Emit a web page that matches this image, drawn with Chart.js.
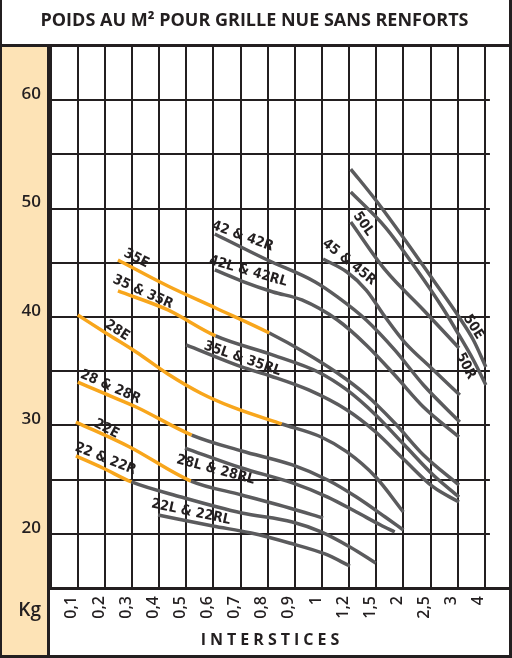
<!DOCTYPE html>
<html>
<head>
<meta charset="utf-8">
<script src="https://cdn.jsdelivr.net/npm/chart.js@4.4.1/dist/chart.umd.min.js"></script>
<style>
  html, body { margin: 0; padding: 0; background: #fff; }
  #wrap { width: 512px; height: 658px; }
</style>
</head>
<body>
<div id="wrap"><canvas id="chart" width="512" height="658"></canvas></div>
<script>
// columns 1..16 are evenly spaced, whatever the interstice value
const xTickLabels = ['0,1', '0,2', '0,3', '0,4', '0,5', '0,6', '0,7', '0,8', '0,9', '1', '1,2', '1,5', '2', '2,5', '3', '4'];
const yTickLabels = [20, 30, 40, 50, 60];

// each curve: column position (x) and kg per m²
const x22LRL = [3.96, 5.98, 7.39, 8.80, 10.11, 11.03];
const kg22LRL = [21.73, 20.72, 20.07, 19.15, 18.14, 17.03];

const x22R = [0.93, 1.92, 2.98, 4.81, 7.04, 8.91, 9.97, 11.03, 11.98];
const kg22R = [27.18, 26.07, 24.78, 23.39, 21.92, 21.09, 20.17, 18.78, 17.31];

const x22E = [0.93, 2.91, 5.17, 7.04, 8.80, 10.04];
const kg22E = [30.31, 28.01, 24.87, 23.58, 22.38, 21.46];

const x28LRL = [4.95, 7.04, 8.91, 10.21, 11.27, 12.16, 12.68];
const kg28LRL = [27.91, 26.07, 24.69, 23.39, 22.01, 20.81, 20.17];

const x28R = [1.00, 2.02, 3.15, 5.20, 7.04, 8.91, 10.21, 11.27, 12.33, 13.00];
const kg28R = [34.00, 32.90, 31.70, 29.11, 27.64, 26.35, 24.96, 23.39, 21.55, 20.35];

const x28E = [1.00, 2.09, 3.15, 4.32, 5.52, 6.68, 8.52, 9.97, 10.92, 11.98, 13.00];
const kg28E = [40.18, 38.43, 36.77, 34.74, 32.99, 31.70, 30.13, 28.93, 27.55, 25.24, 22.01];

const x35LRL = [4.99, 7.04, 8.10, 9.51, 10.92, 11.98, 13.04, 14.10, 15.05];
const kg35LRL = [37.42, 35.39, 34.56, 33.27, 31.42, 29.39, 26.81, 24.32, 22.93];

const x35R = [2.48, 4.32, 6.08, 8.20, 9.86, 10.92, 11.98, 13.04, 14.10, 15.05];
const kg35R = [42.40, 40.65, 38.25, 36.49, 34.93, 33.27, 30.96, 28.19, 25.42, 23.39];

const x35E = [2.48, 4.32, 6.08, 8.06, 9.40, 10.57, 11.63, 12.68, 13.74, 15.05];
const kg35E = [45.26, 42.86, 40.83, 38.52, 36.68, 34.83, 32.80, 30.22, 27.27, 24.50];

const x42LRL = [6.05, 7.04, 8.20, 9.26, 10.57, 11.63, 12.68, 13.74, 15.05];
const kg42LRL = [44.34, 43.32, 42.31, 41.57, 39.72, 37.42, 34.65, 31.70, 28.93];

const x42R = [6.05, 7.99, 9.75, 10.57, 11.63, 12.68, 13.74, 15.08];
const kg42R = [47.66, 45.26, 43.23, 41.85, 39.72, 36.96, 33.73, 30.31];

const x45R = [10.04, 10.92, 11.63, 12.33, 13.04, 13.99, 15.08];
const kg45R = [45.35, 44.15, 42.49, 40.00, 37.69, 35.39, 32.80];

const x50L = [11.06, 12.33, 13.74, 15.05];
const kg50L = [48.76, 44.34, 40.65, 37.14];

const x50R = [11.06, 12.33, 13.50, 14.45, 15.05, 15.58, 16.04];
const kg50R = [51.53, 48.30, 44.34, 40.83, 38.34, 36.03, 33.73];

const x50E = [11.06, 11.98, 13.14, 14.10, 15.05, 15.58, 16.04];
const kg50E = [53.65, 50.79, 46.83, 43.41, 40.00, 37.88, 35.39];

const INK = '#231f20';
const GREY = '#5b5b5d';
const ORANGE = '#f8a61c';
const PEACH = '#fde3b6';

// orangeUntil: column where the orange part of a curve stops
const curves = [
  { name: '22L & 22RL', x: x22LRL, kg: kg22LRL, orangeUntil: null },
  { name: '22 & 22R', x: x22R, kg: kg22R, orangeUntil: 2.98 },
  { name: '22E', x: x22E, kg: kg22E, orangeUntil: 5.17 },
  { name: '28L & 28RL', x: x28LRL, kg: kg28LRL, orangeUntil: null },
  { name: '28 & 28R', x: x28R, kg: kg28R, orangeUntil: 5.20 },
  { name: '28E', x: x28E, kg: kg28E, orangeUntil: 8.52 },
  { name: '35L & 35RL', x: x35LRL, kg: kg35LRL, orangeUntil: null },
  { name: '35 & 35R', x: x35R, kg: kg35R, orangeUntil: 6.08 },
  { name: '35E', x: x35E, kg: kg35E, orangeUntil: 8.06 },
  { name: '42L & 42RL', x: x42LRL, kg: kg42LRL, orangeUntil: null },
  { name: '42 & 42R', x: x42R, kg: kg42R, orangeUntil: null },
  { name: '45 & 45R', x: x45R, kg: kg45R, orangeUntil: null },
  { name: '50L', x: x50L, kg: kg50L, orangeUntil: null },
  { name: '50R', x: x50R, kg: kg50R, orangeUntil: null },
  { name: '50E', x: x50E, kg: kg50E, orangeUntil: null }
];

// where each curve name is written (centre, in chart units) and its slant
const curveLabels = [
  { text: '35E', x: 3.16, kg: 45.40, angle: 27 },
  { text: '35 & 35R', x: 3.40, kg: 42.30, angle: 24 },
  { text: '28E', x: 2.45, kg: 38.75, angle: 33 },
  { text: '28 & 28R', x: 2.20, kg: 33.55, angle: 24 },
  { text: '22E', x: 2.06, kg: 29.68, angle: 28 },
  { text: '22 & 22R', x: 2.02, kg: 26.90, angle: 22 },
  { text: '22L & 22RL', x: 5.17, kg: 22.00, angle: 12 },
  { text: '28L & 28RL', x: 6.08, kg: 25.90, angle: 15 },
  { text: '35L & 35RL', x: 7.07, kg: 36.15, angle: 19 },
  { text: '42L & 42RL', x: 7.28, kg: 44.20, angle: 16 },
  { text: '42 & 42R', x: 7.07, kg: 47.45, angle: 20 },
  { text: '45 & 45R', x: 11.00, kg: 45.05, angle: 39 },
  { text: '50L', x: 11.52, kg: 48.58, angle: 55 },
  { text: '50E', x: 15.58, kg: 39.08, angle: 57 },
  { text: '50R', x: 15.30, kg: 35.48, angle: 63 }
];

const datasets = curves.map(c => ({
  label: c.name,
  data: c.x.map((x, i) => ({ x: x, y: c.kg[i] })),
  borderColor: GREY,
  borderWidth: 3.5,
  pointRadius: 0,
  fill: false,
  cubicInterpolationMode: 'monotone',
  segment: {
    borderColor: ctx => (c.orangeUntil !== null && ctx.p1.parsed.x <= c.orangeUntil + 1e-6) ? ORANGE : GREY
  }
}));

const framePlugin = {
  id: 'frame',
  beforeDraw(chart) {
    const ctx = chart.ctx;
    ctx.save();
    ctx.fillStyle = PEACH;
    ctx.fillRect(2, 47, 45, 608);
    ctx.restore();
  },
  afterDraw(chart) {
    const { ctx, scales: { x, y } } = chart;
    ctx.save();

    // curve names
    ctx.font = 'bold 14px "Liberation Sans Narrow", "DejaVu Sans Condensed", sans-serif';
    ctx.fillStyle = INK;
    ctx.textAlign = 'center';
    ctx.textBaseline = 'middle';
    curveLabels.forEach(l => {
      ctx.save();
      ctx.translate(x.getPixelForValue(l.x), y.getPixelForValue(l.kg));
      ctx.rotate(l.angle * Math.PI / 180);
      ctx.fillText(l.text, 0, 0);
      ctx.restore();
    });

    // frame
    ctx.fillStyle = INK;
    ctx.fillRect(0, 0, 2, 658);
    ctx.fillRect(509, 0, 3, 658);
    ctx.fillRect(0, 655, 512, 3);
    ctx.fillRect(0, 44, 512, 3);
    ctx.fillRect(47, 44, 3, 614);
    ctx.fillRect(47, 587, 465, 3);

    ctx.font = '600 19px "Open Sans", sans-serif';
    ctx.textAlign = 'right';
    ctx.textBaseline = 'middle';
    ctx.fillText('Kg', 41, 611);

    ctx.font = 'bold 16px "Open Sans", sans-serif';
    ctx.textAlign = 'center';
    ctx.letterSpacing = '4px';
    ctx.fillText('INTERSTICES', 272, 640);
    ctx.restore();
  }
};

new Chart(document.getElementById('chart'), {
  type: 'line',
  data: { datasets: datasets },
  options: {
    responsive: false,
    animation: false,
    devicePixelRatio: 1,
    layout: { padding: { left: 0, right: 3, top: 0, bottom: 0 } },
    plugins: {
      legend: { display: false },
      tooltip: { enabled: false },
      title: {
        display: true,
        text: 'POIDS AU M² POUR GRILLE NUE SANS RENFORTS',
        color: INK,
        font: { family: '"Open Sans", sans-serif', size: 18, weight: 'bold', lineHeight: 1.2 },
        padding: { top: 10, bottom: 14.4 }
      }
    },
    scales: {
      x: {
        type: 'linear',
        min: -0.025,
        max: 16.19,
        border: { display: false },
        grid: { color: INK, lineWidth: 2, drawTicks: false },
        ticks: {
          stepSize: 1,
          autoSkip: false,
          includeBounds: false,
          minRotation: 90,
          maxRotation: 90,
          padding: 8,
          labelOffset: -6,
          color: INK,
          font: { family: '"Open Sans", sans-serif', size: 16, weight: '600' },
          callback: v => xTickLabels[v - 1] ?? ''
        },
        afterFit: s => { s.height = 70; }
      },
      y: {
        type: 'linear',
        min: 15,
        max: 65,
        border: { display: false },
        grid: { color: INK, lineWidth: 2, drawTicks: false },
        ticks: {
          stepSize: 5,
          autoSkip: false,
          padding: 9,
          labelOffset: -6,
          color: INK,
          font: { family: '"Open Sans", sans-serif', size: 17, weight: '600' },
          callback: v => yTickLabels.includes(v) ? String(v) : ''
        },
        afterFit: s => { s.width = 50; }
      }
    }
  },
  plugins: [framePlugin]
});
</script>
</body>
</html>
